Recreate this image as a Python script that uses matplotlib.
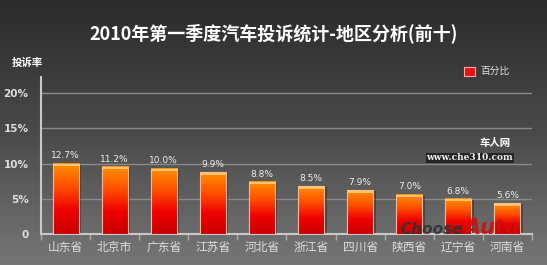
import numpy as np
import matplotlib
matplotlib.use('Agg')
import matplotlib.pyplot as plt

plt.rcParams['font.family'] = ['Noto Sans CJK SC', 'DejaVu Sans']

# ---- data ----
provinces = ['山东省', '北京市', '广东省', '江苏省', '河北省',
             '浙江省', '四川省', '陕西省', '辽宁省', '河南省']
# printed values
pct_labels = [12.7, 11.2, 10.0, 9.9, 8.8, 8.5, 7.9, 7.0, 6.8, 5.6]
# bar heights as drawn in the original (bars are not to scale with labels)
bar_heights = [10.0, 9.55, 9.3, 8.8, 7.4, 6.8, 6.2, 5.6, 5.0, 4.35]
yticks = [0, 5, 10, 15, 20]
ytick_labels = ['0', '5%', '10%', '15%', '20%']

fig = plt.figure(figsize=(5.47, 2.65), dpi=100)

# background gradient
bg = fig.add_axes([0, 0, 1, 1])
grad = np.linspace(0, 1, 256).reshape(-1, 1)
bg.imshow(grad, aspect='auto', cmap=matplotlib.colors.LinearSegmentedColormap.from_list(
    'bg', ['#2b2b2b', '#4a4a4a', '#767676']), extent=[0, 1, 0, 1], origin='upper')
bg.set_axis_off()

fig.text(0.5, 0.875, '2010年第一季度汽车投诉统计-地区分析(前十)', ha='center', va='center',
         color='white', fontsize=13, fontweight='bold')
fig.text(0.022, 0.762, '投诉率', color='white', fontsize=7.5, fontweight='bold',
         ha='left', va='center')

ax = fig.add_axes([0.075, 0.117, 0.8975, 0.592])
ax.set_facecolor('none')
x = np.arange(len(provinces))
bars = ax.bar(x, bar_heights, width=0.53, color='none', edgecolor='none', zorder=3)

cmap_bar = matplotlib.colors.LinearSegmentedColormap.from_list(
    'bar', ['#ff9000', '#ff5000', '#f00000', '#c80000'])
bgrad = np.linspace(0, 1, 100).reshape(-1, 1)
for b, lab in zip(bars, pct_labels):
    x0, w, h = b.get_x(), b.get_width(), b.get_height()
    # shadow
    ax.add_patch(plt.Rectangle((x0 + 0.05, 0), w, h - 0.15, color='#222222',
                               alpha=0.45, zorder=2, lw=0))
    ax.imshow(bgrad, aspect='auto', cmap=cmap_bar, extent=[x0, x0 + w, 0, h],
              origin='upper', zorder=3)
    ax.add_patch(plt.Rectangle((x0, 0), w, h, fill=False, edgecolor='#f7b59a',
                               lw=0.8, zorder=4))
    ax.add_patch(plt.Rectangle((x0, h - 0.35), w, 0.35, color='#ffc27a',
                               lw=0, zorder=4))
    ax.text(x0 + w / 2, h + 1.1, f'{lab:.1f}%', ha='center', va='center',
            color='#eeeeee', fontsize=6.5, family='DejaVu Sans', zorder=5)

ax.set_xlim(-0.5, len(provinces) - 0.5)
ax.set_ylim(0, 22.3)
ax.set_yticks(yticks)
ax.set_yticklabels(ytick_labels)
ax.set_xticks(x)
ax.set_xticklabels(provinces)
ax.set_xticks(np.arange(len(provinces) + 1) - 0.5, minor=True)
ax.tick_params(axis='y', length=0, pad=9, labelcolor='#dddddd', labelsize=7.5)
ax.tick_params(axis='x', which='major', length=0, pad=5, labelcolor='#dddddd', labelsize=8.5)
ax.tick_params(axis='x', which='minor', length=4, color='#aaaaaa', width=1)
for t in ax.get_yticklabels():
    t.set_family('DejaVu Sans')
    t.set_fontweight('bold')

ax.grid(axis='y', color='#8a8a8a', lw=1, zorder=1)
ax.set_axisbelow(True)
for s in ['top', 'right']:
    ax.spines[s].set_visible(False)
for s in ['left', 'bottom']:
    ax.spines[s].set_color('#c8c8c8')
    ax.spines[s].set_linewidth(1.5)

# legend
fig.patches.append(plt.Rectangle((0.848, 0.713), 0.02, 0.036, transform=fig.transFigure,
                                 facecolor='#e81010', edgecolor='#ffaaaa', lw=0.8))
fig.text(0.878, 0.731, '百分比', color='#e0e0e0', fontsize=7, va='center', ha='left')

# watermarks
fig.text(0.905, 0.462, '车人网', color='white', fontsize=7.5, fontweight='bold',
         ha='center', va='center')
fig.text(0.859, 0.404, 'www.che310.com', color='#f0f0f0', fontsize=6.5, fontweight='bold',
         family='DejaVu Serif', ha='center', va='center',
         bbox=dict(facecolor='#1a1a1a', edgecolor='none', pad=0.5, alpha=0.8))
fig.text(0.79, 0.135, 'Choose', color='#333333', fontsize=11, fontweight='bold',
         style='italic', family='DejaVu Sans', ha='center', va='center', alpha=0.9)
fig.text(0.9, 0.14, 'Auto', color='#cc1010', fontsize=15, fontweight='bold',
         style='italic', family='DejaVu Sans', ha='center', va='center', alpha=0.9)

fig.savefig('out.png', dpi=100)
